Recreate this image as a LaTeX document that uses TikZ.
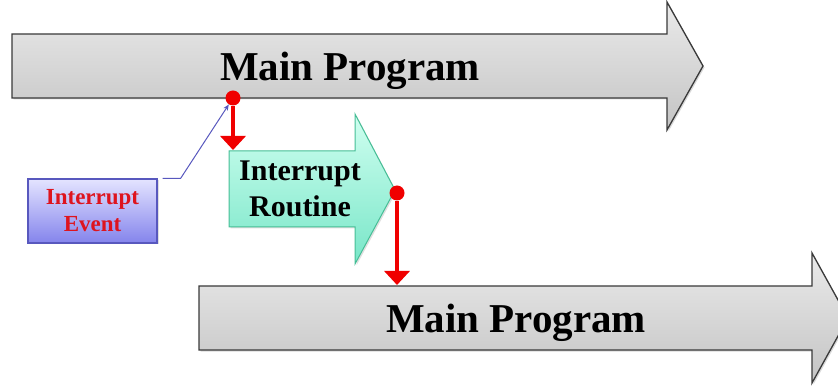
\documentclass[tikz,border=0pt]{standalone}
\usepackage{fontspec}
\setmainfont{Liberation Serif}
\usetikzlibrary{arrows.meta,shadows}

\definecolor{progtop}{RGB}{234,234,234}
\definecolor{progbot}{RGB}{196,196,196}
\definecolor{progedge}{RGB}{58,58,58}
\definecolor{isrtop}{RGB}{208,255,240}
\definecolor{isrbot}{RGB}{120,230,200}
\definecolor{isredge}{RGB}{70,190,150}
\definecolor{evtop}{RGB}{228,228,255}
\definecolor{evbot}{RGB}{132,132,236}
\definecolor{evedge}{RGB}{88,88,190}
\definecolor{evred}{RGB}{222,20,30}
\definecolor{jumpred}{RGB}{240,0,0}

\tikzset{
  progarrow/.style={draw=progedge, line width=1.3pt, top color=progtop, bottom color=progbot,
    drop shadow={opacity=0.3, shadow xshift=1.5pt, shadow yshift=-1.5pt}},
  israrrow/.style={draw=isredge, line width=1pt, top color=isrtop, bottom color=isrbot,
    drop shadow={opacity=0.25, shadow xshift=1.5pt, shadow yshift=-1.5pt}},
  evbox/.style={draw=evedge, line width=1.3pt, top color=evtop, bottom color=evbot,
    minimum width=129pt, minimum height=64pt, inner sep=0pt, align=center,
    text=evred, font=\fontsize{23}{27}\selectfont\bfseries,
    drop shadow={opacity=0.25, shadow xshift=1.5pt, shadow yshift=-1.5pt}},
  proglabel/.style={anchor=base, inner sep=0pt, font=\fontsize{41}{45}\selectfont\bfseries},
  isrlabel/.style={inner sep=0pt, align=center, font=\fontsize{30}{36}\selectfont\bfseries},
  evdot/.style={circle, fill=jumpred, minimum size=15pt, inner sep=0pt},
  jump/.style={draw=jumpred, line width=3.5pt, -{Triangle[width=25pt,length=14pt]}},
  evline/.style={draw=evedge, line width=1pt, -{Stealth[length=6pt,width=5pt]}}
}

\begin{document}
\begin{tikzpicture}[x=1pt,y=-1pt]
\useasboundingbox (0,0) rectangle (838,387);
\clip (0,0) rectangle (838,387);

\path[progarrow] (12,34) -- (667,34) -- (667,2) -- (703,66) -- (667,130) -- (667,98) -- (12,98) -- cycle;
\path[israrrow] (229,151) -- (355,151) -- (355,114) -- (395,190) -- (355,264) -- (355,227) -- (229,227) -- cycle;
\path[progarrow] (199,286) -- (812,286) -- (812,253) -- (848,318) -- (812,383) -- (812,350) -- (199,350) -- cycle;

\node[proglabel] (main1) at (350,81) {Main Program};
\node[proglabel] (main2) at (516,333) {Main Program};
\node[isrlabel] (isr) at (300,189) {Interrupt\\Routine};
\node[evbox] (event) at (92.5,211) {Interrupt\\Event};

\node[evdot] (hit) at (233,98) {};
\node[evdot] (back) at (397,193) {};
\coordinate (isrtop) at (233,150);
\coordinate (maintop) at (397,285);

\draw[jump] (hit) -- (isrtop);
\draw[jump] (back) -- (maintop);
\draw[evline] ([xshift=5pt]event.north east) -- ++(18,0) -- (hit);

\end{tikzpicture}
\end{document}
